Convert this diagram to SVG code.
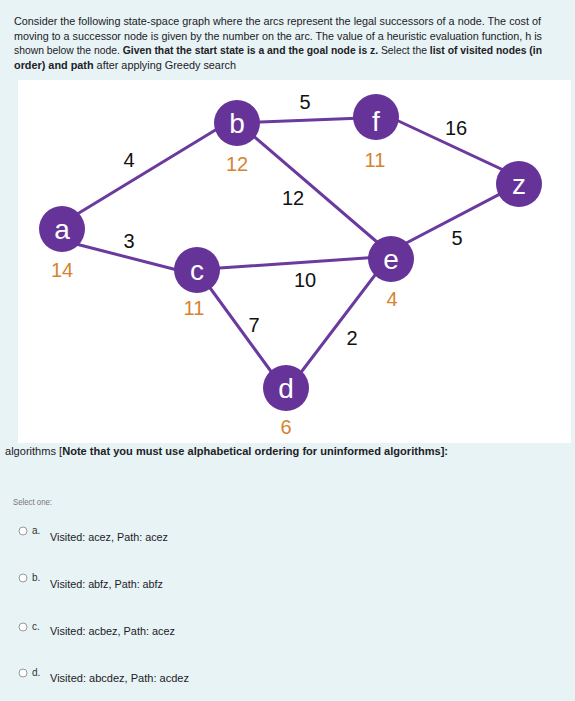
<svg xmlns="http://www.w3.org/2000/svg" width="575" height="701" viewBox="0 0 575 701">
<style>
.p{font-family:"Liberation Sans",Arial,sans-serif;font-size:11px;fill:#1d2125}
.b{font-weight:bold}
.edge{stroke:#6b3a9e;stroke-width:3;fill:none;stroke-linecap:round}
.node{fill:#663399}
.nl{font-family:"Liberation Sans",Arial,sans-serif;font-size:28px;fill:#fff;text-anchor:middle}
.w{font-family:"Liberation Sans",Arial,sans-serif;font-size:20px;fill:#111;text-anchor:middle}
.h{font-family:"Liberation Sans",Arial,sans-serif;font-size:20px;fill:#d6832f;text-anchor:middle}
.sel{font-family:"Liberation Sans",Arial,sans-serif;font-size:9px;fill:#777}
.opt{font-family:"Liberation Sans",Arial,sans-serif;font-size:10px;fill:#1d2125}
.lt{font-family:"Liberation Sans",Arial,sans-serif;font-size:10px;fill:#333}
.radio{fill:#fff;stroke:#999;stroke-width:1}
</style>
<rect width="575" height="701" fill="#e7f3f5"/>
<text class="p" x="14" y="25" textLength="527" lengthAdjust="spacingAndGlyphs">Consider the following state-space graph where the arcs represent the legal successors of a node. The cost of</text>
<text class="p" x="14" y="39.5" textLength="528" lengthAdjust="spacingAndGlyphs">moving to a successor node is given by the number on the arc. The value of a heuristic evaluation function, h is</text>
<text class="p" x="14" y="54" style="font-size:10.4px" textLength="528" lengthAdjust="spacingAndGlyphs">shown below the node. <tspan class="b">Given that the start state is a and the goal node is z.</tspan> Select the <tspan class="b">list of visited nodes (in</tspan></text>
<text class="p" x="14" y="68.5" textLength="222" lengthAdjust="spacingAndGlyphs"><tspan class="b">order) and path</tspan> after applying Greedy search</text>
<rect x="18" y="80" width="553" height="363" fill="#fff"/>
<g id="edges">
<line class="edge" x1="74" y1="216" x2="222" y2="126"/>
<line class="edge" x1="76" y1="244" x2="185" y2="272"/>
<line class="edge" x1="237" y1="123" x2="376" y2="117.5"/>
<line class="edge" x1="237" y1="122" x2="391" y2="254"/>
<line class="edge" x1="205" y1="269" x2="380" y2="257"/>
<line class="edge" x1="197" y1="270" x2="286" y2="392"/>
<line class="edge" x1="286" y1="392" x2="391" y2="254"/>
<line class="edge" x1="392" y1="118" x2="512" y2="174"/>
<line class="edge" x1="391" y1="251" x2="519" y2="184"/>
</g>
<g id="edge-labels">
<text class="w" x="129" y="167">4</text>
<text class="w" x="129" y="248">3</text>
<text class="w" x="305" y="109">5</text>
<text class="w" x="293" y="205">12</text>
<text class="w" x="305" y="287">10</text>
<text class="w" x="254" y="332">7</text>
<text class="w" x="352" y="345">2</text>
<text class="w" x="456" y="135">16</text>
<text class="w" x="457" y="245">5</text>
</g>
<g id="node-a"><circle class="node" cx="62" cy="229" r="23"/><text class="nl" x="62" y="239">a</text><text class="h" x="62" y="277">14</text></g>
<g id="node-b"><circle class="node" cx="237" cy="123" r="23"/><text class="nl" x="237" y="133">b</text><text class="h" x="237" y="171">12</text></g>
<g id="node-c"><circle class="node" cx="197" cy="270" r="23"/><text class="nl" x="197" y="280">c</text><text class="h" x="194" y="315">11</text></g>
<g id="node-f"><circle class="node" cx="376" cy="117" r="23"/><text class="nl" x="376" y="131">f</text><text class="h" x="375" y="167">11</text></g>
<g id="node-e"><circle class="node" cx="391" cy="259" r="23"/><text class="nl" x="391" y="269">e</text><text class="h" x="392" y="306">4</text></g>
<g id="node-d"><circle class="node" cx="286" cy="388" r="23"/><text class="nl" x="286" y="398">d</text><text class="h" x="286" y="434">6</text></g>
<g id="node-z"><circle class="node" cx="519" cy="184" r="23"/><text class="nl" x="519" y="194">z</text></g>
<text class="p" x="5" y="455" textLength="443" lengthAdjust="spacingAndGlyphs">algorithms [<tspan class="b">Note that you must use alphabetical ordering for uninformed algorithms]:</tspan></text>
<text class="sel" x="13" y="505" textLength="39" lengthAdjust="spacingAndGlyphs">Select one:</text>
<g id="opt-a"><circle class="radio" cx="23" cy="531" r="4"/><text class="lt" x="32" y="534">a.</text><text class="opt" x="50" y="541" textLength="118" lengthAdjust="spacingAndGlyphs">Visited: acez, Path: acez</text></g>
<g id="opt-b"><circle class="radio" cx="23" cy="578" r="4"/><text class="lt" x="32" y="581">b.</text><text class="opt" x="50" y="588" textLength="113" lengthAdjust="spacingAndGlyphs">Visited: abfz, Path: abfz</text></g>
<g id="opt-c"><circle class="radio" cx="23" cy="627" r="4"/><text class="lt" x="32" y="630">c.</text><text class="opt" x="50" y="635" textLength="125" lengthAdjust="spacingAndGlyphs">Visited: acbez, Path: acez</text></g>
<g id="opt-d"><circle class="radio" cx="23" cy="673" r="4"/><text class="lt" x="32" y="676">d.</text><text class="opt" x="50" y="682" textLength="139" lengthAdjust="spacingAndGlyphs">Visited: abcdez, Path: acdez</text></g>
</svg>
